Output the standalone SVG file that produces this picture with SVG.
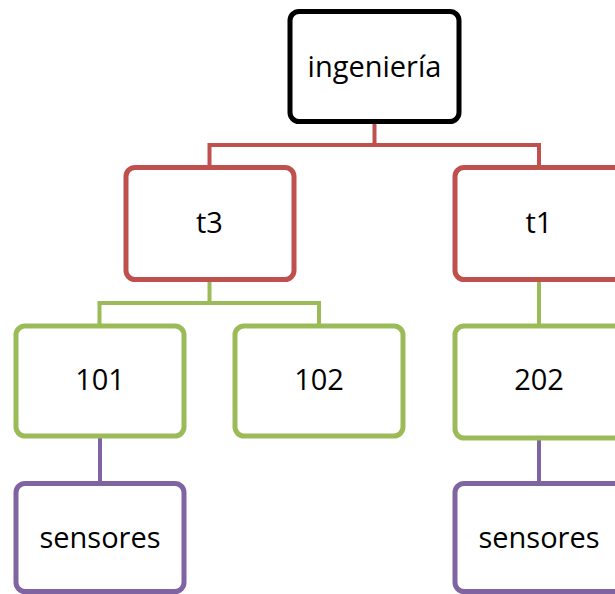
<svg xmlns="http://www.w3.org/2000/svg" width="615" height="594" viewBox="0 0 615 594">
  <style>
    .box { fill: #ffffff; stroke-width: 5; }
    .k { stroke: #000000; }
    .r { stroke: #C0504D; }
    .g { stroke: #9BBB59; }
    .p { stroke: #8064A2; }
    .lbl { font-family: "Open Sans", "Liberation Sans", sans-serif; font-size: 29px; fill: #000000; text-anchor: middle; }
    .ln { fill: none; stroke-width: 4; }
  </style>
  <rect width="615" height="594" fill="#ffffff"/>
  <g id="connectors">
    <path class="ln r" d="M374.5 121.5 V145 M209.5 167.5 V145 H539 V167.5"/>
    <path class="ln g" d="M209.5 279.5 V303 M99.5 326 V303 H319 V326"/>
    <path class="ln g" d="M539 279.5 V326"/>
    <path class="ln p" d="M100 436 V483.5"/>
    <path class="ln p" d="M539 438 V483.5"/>
  </g>
  <g id="n-ingenieria">
    <rect class="box k" x="290" y="11.5" width="169" height="110" rx="9"/>
    <text class="lbl" x="374.5" y="77">ingeniería</text>
  </g>
  <g id="n-t3">
    <rect class="box r" x="126" y="167.5" width="168" height="112" rx="9"/>
    <text class="lbl" x="209.5" y="233">t3</text>
  </g>
  <g id="n-t1">
    <rect class="box r" x="455" y="167.5" width="168" height="112" rx="9"/>
    <text class="lbl" x="539" y="233">t1</text>
  </g>
  <g id="n-101">
    <rect class="box g" x="16" y="326" width="168" height="110" rx="9"/>
    <text class="lbl" x="100" y="390">101</text>
  </g>
  <g id="n-102">
    <rect class="box g" x="235" y="326" width="168" height="110" rx="9"/>
    <text class="lbl" x="319" y="390">102</text>
  </g>
  <g id="n-202">
    <rect class="box g" x="455" y="326" width="168" height="112" rx="9"/>
    <text class="lbl" x="539" y="390">202</text>
  </g>
  <g id="n-sensores-1">
    <rect class="box p" x="16" y="483.5" width="168" height="108" rx="9"/>
    <text class="lbl" x="100" y="548">sensores</text>
  </g>
  <g id="n-sensores-2">
    <rect class="box p" x="455" y="483.5" width="168" height="108" rx="9"/>
    <text class="lbl" x="539" y="548">sensores</text>
  </g>
</svg>
